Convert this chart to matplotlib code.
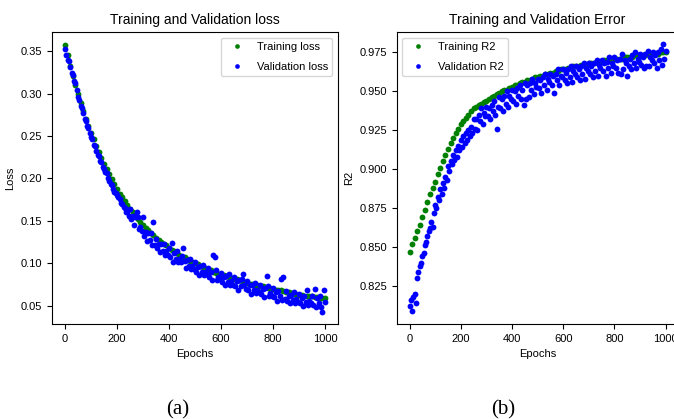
import numpy as np
import matplotlib
matplotlib.use('Agg')
import matplotlib.pyplot as plt

plt.rcParams['font.family'] = ['Liberation Sans', 'DejaVu Sans']
plt.rcParams['font.size'] = 8

# training curves are logged every 10 epochs, validation every 5
epochs_train = np.arange(0, 1001, 10)
epochs_val = np.arange(0, 1001, 5)

train_loss = [
    0.357, 0.345, 0.333, 0.321, 0.310, 0.299, 0.289, 0.279, 0.270, 0.262,
    0.254, 0.246, 0.238, 0.231, 0.224, 0.217, 0.211, 0.205, 0.199, 0.193,
    0.187, 0.182, 0.178, 0.173, 0.169, 0.164, 0.160, 0.156, 0.152, 0.149,
    0.145, 0.142, 0.139, 0.136, 0.133, 0.130, 0.128, 0.125, 0.123, 0.121,
    0.118, 0.116, 0.114, 0.112, 0.110, 0.108, 0.107, 0.105, 0.103, 0.102,
    0.100, 0.099, 0.097, 0.096, 0.094, 0.093, 0.092, 0.090, 0.089, 0.088,
    0.087, 0.086, 0.085, 0.084, 0.083, 0.082, 0.081, 0.080, 0.079, 0.078,
    0.077, 0.076, 0.076, 0.075, 0.074, 0.073, 0.073, 0.072, 0.071, 0.071,
    0.070, 0.069, 0.068, 0.068, 0.067, 0.066, 0.066, 0.065, 0.064, 0.064,
    0.063, 0.063, 0.062, 0.062, 0.061, 0.061, 0.060, 0.060, 0.059, 0.059,
    0.059]

val_loss = [
    0.352, 0.346, 0.340, 0.338, 0.331, 0.324, 0.322, 0.315, 0.312, 0.304,
    0.296, 0.292, 0.285, 0.283, 0.277, 0.270, 0.268, 0.262, 0.259, 0.253,
    0.249, 0.246, 0.239, 0.238, 0.232, 0.228, 0.226, 0.220, 0.219, 0.213,
    0.211, 0.207, 0.206, 0.200, 0.197, 0.194, 0.192, 0.188, 0.184, 0.183,
    0.180, 0.178, 0.176, 0.171, 0.170, 0.166, 0.165, 0.160, 0.161, 0.156,
    0.164, 0.152, 0.156, 0.145, 0.154, 0.161, 0.154, 0.140, 0.143, 0.138,
    0.155, 0.132, 0.137, 0.126, 0.136, 0.128, 0.136, 0.122, 0.149, 0.121,
    0.129, 0.118, 0.123, 0.113, 0.123, 0.115, 0.123, 0.110, 0.114, 0.110,
    0.118, 0.107, 0.124, 0.102, 0.112, 0.105, 0.114, 0.101, 0.105, 0.101,
    0.109, 0.118, 0.103, 0.094, 0.104, 0.097, 0.105, 0.093, 0.097, 0.093,
    0.101, 0.090, 0.096, 0.086, 0.097, 0.090, 0.098, 0.086, 0.090, 0.087,
    0.095, 0.084, 0.090, 0.080, 0.110, 0.107, 0.092, 0.080, 0.084, 0.081,
    0.089, 0.078, 0.084, 0.074, 0.085, 0.078, 0.087, 0.074, 0.079, 0.075,
    0.084, 0.073, 0.079, 0.069, 0.080, 0.073, 0.082, 0.088, 0.074, 0.070,
    0.079, 0.068, 0.074, 0.064, 0.075, 0.069, 0.077, 0.065, 0.069, 0.066,
    0.075, 0.064, 0.070, 0.060, 0.071, 0.085, 0.073, 0.061, 0.065, 0.062,
    0.071, 0.060, 0.066, 0.056, 0.067, 0.061, 0.081, 0.057, 0.084, 0.058,
    0.067, 0.056, 0.062, 0.053, 0.063, 0.057, 0.066, 0.053, 0.058, 0.055,
    0.064, 0.053, 0.059, 0.050, 0.061, 0.054, 0.068, 0.051, 0.056, 0.053,
    0.062, 0.051, 0.070, 0.048, 0.059, 0.053, 0.061, 0.049, 0.043, 0.068,
    0.055]

train_r2 = [
    0.847, 0.852, 0.856, 0.860, 0.864, 0.869, 0.874, 0.879, 0.884, 0.888,
    0.892, 0.897, 0.901, 0.905, 0.909, 0.913, 0.917, 0.920, 0.923, 0.926,
    0.929, 0.931, 0.933, 0.935, 0.937, 0.939, 0.940, 0.941, 0.942, 0.943,
    0.944, 0.945, 0.946, 0.947, 0.948, 0.949, 0.950, 0.951, 0.951, 0.952,
    0.953, 0.954, 0.954, 0.955, 0.956, 0.956, 0.957, 0.957, 0.958, 0.959,
    0.959, 0.960, 0.960, 0.961, 0.961, 0.962, 0.962, 0.963, 0.963, 0.964,
    0.964, 0.964, 0.965, 0.965, 0.966, 0.966, 0.966, 0.967, 0.967, 0.967,
    0.968, 0.968, 0.968, 0.969, 0.969, 0.969, 0.970, 0.970, 0.970, 0.970,
    0.971, 0.971, 0.971, 0.971, 0.972, 0.972, 0.972, 0.972, 0.973, 0.973,
    0.973, 0.973, 0.973, 0.974, 0.974, 0.974, 0.974, 0.974, 0.975, 0.975,
    0.975]

val_r2 = [
    0.812, 0.816, 0.809, 0.818, 0.820, 0.814, 0.830, 0.834, 0.838, 0.840,
    0.844, 0.846, 0.851, 0.853, 0.857, 0.860, 0.862, 0.866, 0.863, 0.872,
    0.877, 0.875, 0.882, 0.880, 0.887, 0.884, 0.891, 0.888, 0.895, 0.893,
    0.902, 0.899, 0.905, 0.903, 0.909, 0.906, 0.912, 0.908, 0.915, 0.912,
    0.919, 0.914, 0.921, 0.917, 0.923, 0.919, 0.925, 0.921, 0.927, 0.923,
    0.932, 0.926, 0.932, 0.925, 0.935, 0.931, 0.939, 0.929, 0.936, 0.934,
    0.940, 0.934, 0.939, 0.932, 0.941, 0.937, 0.944, 0.935, 0.926, 0.940,
    0.946, 0.939, 0.945, 0.937, 0.947, 0.942, 0.950, 0.940, 0.947, 0.945,
    0.951, 0.944, 0.950, 0.942, 0.952, 0.947, 0.954, 0.945, 0.951, 0.941,
    0.955, 0.945, 0.954, 0.946, 0.955, 0.951, 0.958, 0.948, 0.955, 0.953,
    0.958, 0.952, 0.957, 0.949, 0.959, 0.954, 0.961, 0.951, 0.958, 0.956,
    0.961, 0.954, 0.960, 0.949, 0.961, 0.957, 0.964, 0.954, 0.960, 0.959,
    0.964, 0.957, 0.962, 0.955, 0.964, 0.959, 0.966, 0.956, 0.963, 0.961,
    0.966, 0.959, 0.964, 0.957, 0.966, 0.961, 0.968, 0.958, 0.965, 0.963,
    0.968, 0.961, 0.966, 0.959, 0.968, 0.963, 0.970, 0.960, 0.967, 0.965,
    0.970, 0.963, 0.968, 0.960, 0.969, 0.965, 0.972, 0.962, 0.968, 0.966,
    0.972, 0.965, 0.970, 0.962, 0.971, 0.961, 0.974, 0.964, 0.970, 0.968,
    0.960, 0.966, 0.971, 0.964, 0.973, 0.968, 0.975, 0.965, 0.971, 0.969,
    0.974, 0.967, 0.972, 0.965, 0.974, 0.966, 0.976, 0.966, 0.972, 0.970,
    0.975, 0.968, 0.973, 0.965, 0.975, 0.970, 0.977, 0.967, 0.980, 0.971,
    0.976]

fig = plt.figure(figsize=(6.74, 4.19), dpi=100)
# right panel runs a little past the page edge, as in the original crop
ax1 = fig.add_axes([0.0772, 0.2267, 0.4243, 0.6969])
ax2 = fig.add_axes([0.5886, 0.2267, 0.4181, 0.6969])

ms = 4.2
ax1.plot(epochs_train, train_loss, 'o', color='g', ms=ms, mew=0, label='Training loss')
ax1.plot(epochs_val, val_loss, 'o', color='b', ms=ms, mew=0, label='Validation loss')
ax1.set_title('Training and Validation loss', fontsize=10)
ax1.set_xlabel('Epochs')
ax1.set_ylabel('Loss')
ax1.set_xlim(-50, 1050)
ax1.set_ylim(0.0285, 0.3725)
ax1.set_xticks([0, 200, 400, 600, 800, 1000])
ax1.set_yticks([0.05, 0.10, 0.15, 0.20, 0.25, 0.30, 0.35])
ax1.legend(loc='upper right', fontsize=8, labelspacing=0.9, markerscale=0.8)

ax2.plot(epochs_train, train_r2, 'o', color='g', ms=ms, mew=0, label='Training R2')
ax2.plot(epochs_val, val_r2, 'o', color='b', ms=ms, mew=0, label='Validation R2')
ax2.set_title('Training and Validation Error', fontsize=10)
ax2.set_xlabel('Epochs')
ax2.set_ylabel('R2')
ax2.set_xlim(-50, 1050)
ax2.set_ylim(0.8006, 0.9880)
ax2.set_xticks([0, 200, 400, 600, 800, 1000])
ax2.set_yticks([0.825, 0.850, 0.875, 0.900, 0.925, 0.950, 0.975])
ax2.legend(loc='upper left', fontsize=8, labelspacing=0.9, markerscale=0.8)

fig.text(178 / 674, 1 - 410 / 419, '(a)', ha='center', va='center',
         family='Liberation Serif', fontsize=15)
fig.text(503 / 674, 1 - 410 / 419, '(b)', ha='center', va='center',
         family='Liberation Serif', fontsize=15)

fig.savefig('out.png', dpi=100)
